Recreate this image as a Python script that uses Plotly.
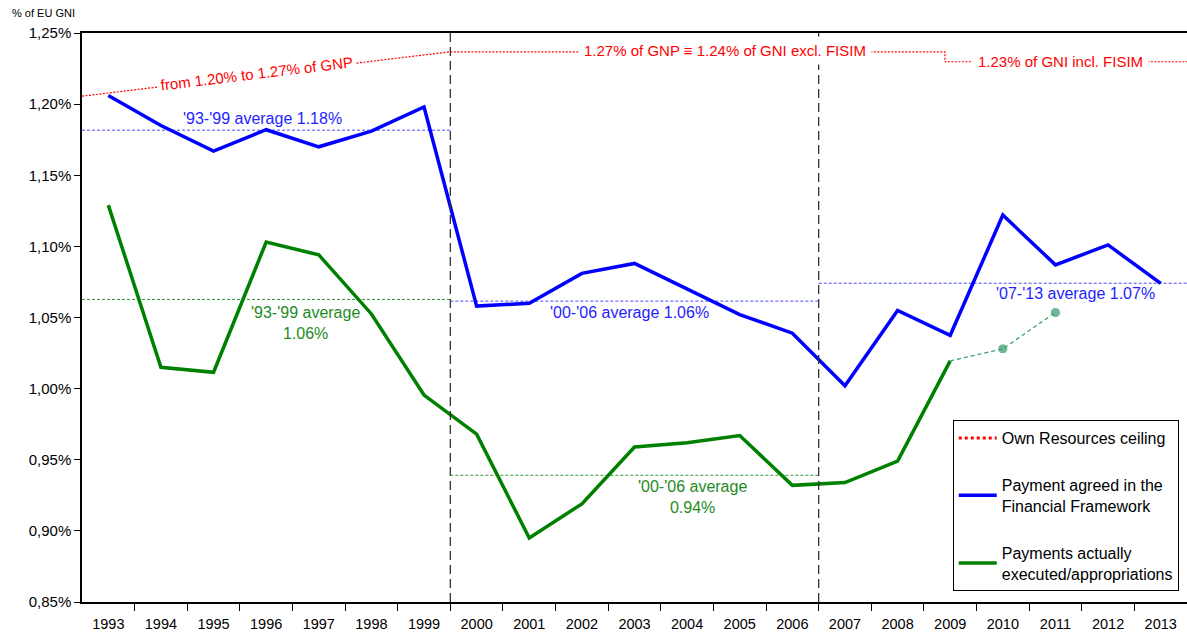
import plotly.graph_objects as go

# ---- data (% of EU GNI) ----
years = list(range(1993, 2014))

agreed = [1.206, 1.185, 1.167, 1.182, 1.170, 1.181, 1.198,
          1.058, 1.060, 1.081, 1.088, 1.070, 1.052, 1.039,
          1.002, 1.055, 1.0375, 1.122, 1.087, 1.101, 1.074]

executed_years = list(range(1993, 2010))
executed = [1.129, 1.015, 1.0115, 1.103, 1.094, 1.0525, 0.9955,
            0.968, 0.895, 0.919, 0.959, 0.962, 0.967, 0.932,
            0.934, 0.949, 1.0195]

forecast_years = [2009, 2010, 2011]
forecast = [1.0195, 1.028, 1.0535]

ceiling_x = [1992.5, 1999.5, 2008.9, 2008.9, 2013.5]
ceiling_y = [1.2056, 1.2368, 1.2368, 1.2298, 1.2298]

avg_start = [1992.5, 1992.5, 1999.5, 1999.5, 2006.5]
avg_end = [1999.5, 1999.5, 2006.5, 2006.5, 2013.5]
avg_value = [1.1817, 1.0627, 1.0615, 0.9391, 1.0741]
avg_series = ["agreed", "executed", "agreed", "executed", "agreed"]
avg_text = ["'93-'99 average 1.18%", "'93-'99 average<br>1.06%",
            "'00-'06 average 1.06%", "'00-'06 average<br>0.94%",
            "'07-'13 average 1.07%"]

period_breaks = [1999.5, 2006.5]

ytick_vals = [0.85, 0.90, 0.95, 1.00, 1.05, 1.10, 1.15, 1.20, 1.25]
ytick_text = ["0,85%", "0,90%", "0,95%", "1,00%", "1,05%", "1,10%", "1,15%", "1,20%", "1,25%"]

BLUE = "#0000ff"
GREEN = "#008000"
RED = "#ff0000"
avg_line_col = {"agreed": "#4a4aff", "executed": "#2e9a2e"}
avg_text_col = {"agreed": "#1f1fff", "executed": "#1e8c1e"}

fig = go.Figure()

# ceiling (thin line on chart, thicker dummy for legend)
fig.add_trace(go.Scatter(x=ceiling_x, y=ceiling_y, mode="lines", showlegend=False,
                         line=dict(color=RED, width=1.2, dash="2px,1.5px"), hoverinfo="skip"))
fig.add_trace(go.Scatter(x=[None], y=[None], mode="lines", name="Own Resources ceiling",
                         legendgroup="a", line=dict(color=RED, width=3, dash="dot")))

# period averages
for s, e, v, k in zip(avg_start, avg_end, avg_value, avg_series):
    fig.add_trace(go.Scatter(x=[s, e], y=[v, v], mode="lines", showlegend=False,
                             line=dict(color=avg_line_col[k], width=1, dash="3px,2px"),
                             hoverinfo="skip"))

fig.add_trace(go.Scatter(x=years, y=agreed, mode="lines",
                         name="Payment agreed in the<br>Financial Framework",
                         legendgroup="b", line=dict(color=BLUE, width=3.5)))
fig.add_trace(go.Scatter(x=executed_years, y=executed, mode="lines",
                         name="Payments actually<br>executed/appropriations",
                         legendgroup="c", line=dict(color=GREEN, width=3.5)))
fig.add_trace(go.Scatter(x=forecast_years, y=forecast, mode="lines+markers", showlegend=False,
                         line=dict(color="#339966", width=1.2, dash="4px,3px"),
                         marker=dict(size=[0, 10, 10], color="#339966")))

# vertical period separators
for b in period_breaks:
    fig.add_shape(type="line", x0=b, x1=b, yref="paper", y0=0, y1=1,
                  line=dict(color="#333333", width=1.3, dash="9px,5px"))

# average labels
label_pos = [(1995.93, 1.1899), (1996.75, 1.0459), (2002.9, 1.0533),
             (2004.1, 0.924), (2011.38, 1.0667)]
for (lx, ly), t, k in zip(label_pos, avg_text, avg_series):
    fig.add_annotation(x=lx, y=ly, text=t, showarrow=False,
                       font=dict(size=16, color=avg_text_col[k]))

# ceiling labels (white box breaks the dotted line)
fig.add_annotation(x=1995.81, y=1.2215, text="from 1.20% to 1.27% of GNP", showarrow=False,
                   textangle=-6.9, bgcolor="white", borderpad=2, font=dict(size=15, color=RED))
fig.add_annotation(x=2004.72, y=1.2378, text="1.27% of GNP \u2261 1.24% of GNI excl. FISIM",
                   showarrow=False, bgcolor="white", borderpad=5, font=dict(size=15, color=RED))
fig.add_annotation(x=2011.1, y=1.2298, text="1.23% of GNI incl. FISIM", showarrow=False,
                   bgcolor="white", borderpad=5, font=dict(size=15, color=RED))

fig.add_annotation(xref="paper", yref="paper", x=-0.0652, y=1.036, xanchor="left",
                   yanchor="middle", text="% of EU GNI", showarrow=False,
                   font=dict(size=11, color="black"))

fig.update_xaxes(range=[1992.5, 2013.5], tickvals=years, ticktext=[str(y) for y in years],
                 ticks="outside", ticklen=8, tickcolor="rgba(0,0,0,0)",
                 minor=dict(tickvals=[y + 0.5 for y in years[:-1]], ticks="outside",
                            ticklen=7, tickcolor="black", showgrid=False),
                 showline=True, linecolor="black", linewidth=1.5, mirror=True,
                 showgrid=False, zeroline=False, tickfont=dict(size=14.5), automargin=False)
fig.update_yaxes(range=[0.85, 1.25], tickvals=ytick_vals, ticktext=ytick_text,
                 ticks="outside", ticklen=6, tickcolor="black",
                 showline=True, linecolor="black", linewidth=1.5,
                 showgrid=False, zeroline=False, tickfont=dict(size=15), automargin=False)

fig.update_layout(
    width=1187, height=632,
    margin=dict(l=82, r=0, t=33, b=30),
    plot_bgcolor="white", paper_bgcolor="white",
    font=dict(family="Liberation Sans, Arial, sans-serif", color="black"),
    legend=dict(x=0.788, y=0.019, xanchor="left", yanchor="bottom",
                bgcolor="white", bordercolor="black", borderwidth=1,
                tracegroupgap=23, itemwidth=38, font=dict(size=16)),
    hovermode=False,
)

# the page body has a default 8px margin; drop it so the chart sits at the corner
fig.write_html("out.html", config={"displayModeBar": False},
               post_script="document.body.style.margin='0';")
